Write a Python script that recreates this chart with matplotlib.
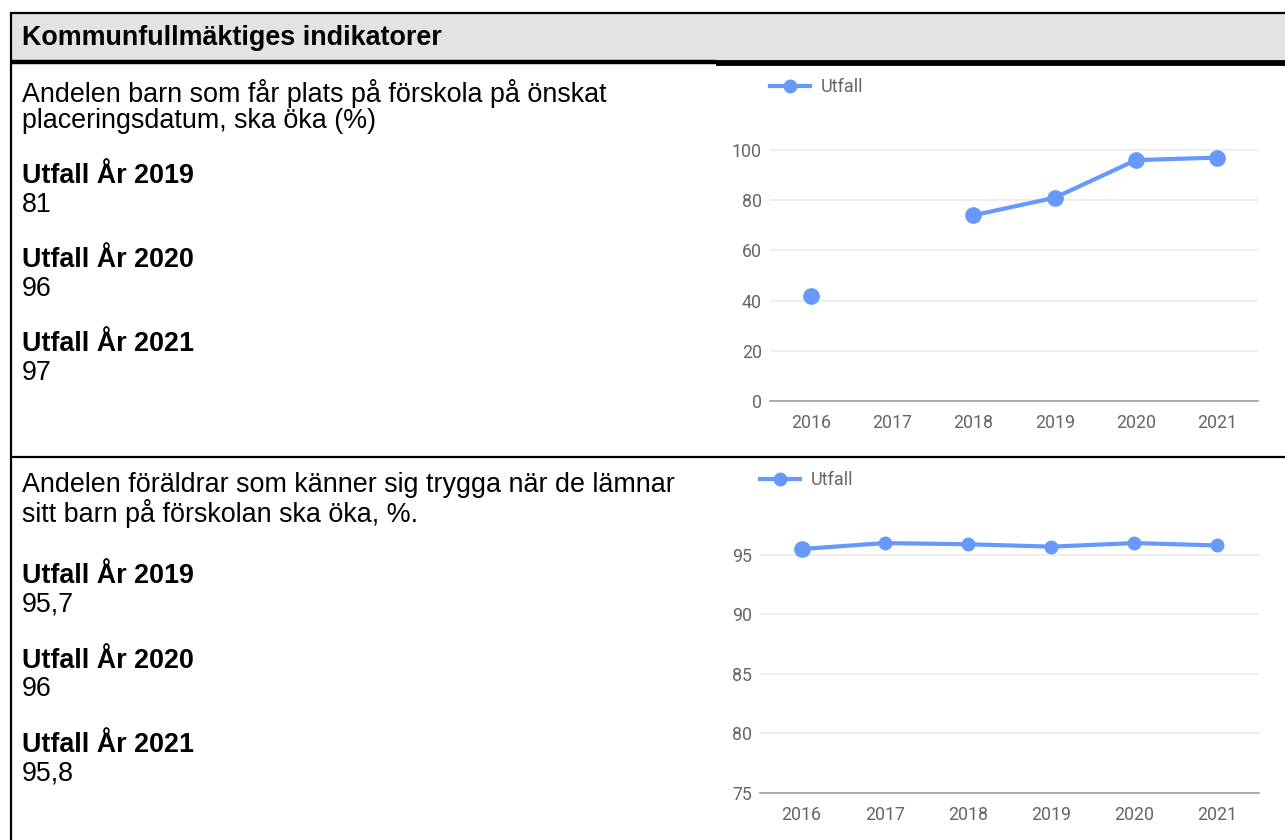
import numpy as np
import matplotlib.pyplot as plt
from matplotlib.lines import Line2D
from matplotlib.patches import Rectangle

# figure size in pixels
W = 1285
H = 840
DPI = 100

years = ['2016', '2017', '2018', '2019', '2020', '2021']

# indicator 1: placering pa onskat datum (%)
utfall_1 = [42, np.nan, 74, 81, 96, 97]
yticks_1 = [0, 20, 40, 60, 80, 100]

# indicator 2: trygga foraldrar (%)
utfall_2 = [95.5, 96.0, 95.9, 95.7, 96.0, 95.8]
yticks_2 = [75, 80, 85, 90, 95]

header = 'Kommunfullmäktiges indikatorer'
desc_1 = ['Andelen barn som får plats på förskola på önskat',
          'placeringsdatum, ska öka (%)']
desc_2 = ['Andelen föräldrar som känner sig trygga när de lämnar',
          'sitt barn på förskolan ska öka, %.']
labels = ['Utfall År 2019', 'Utfall År 2020', 'Utfall År 2021']
values_1 = ['81', '96', '97']
values_2 = ['95,7', '96', '95,8']

BLUE = '#6699fb'
GRID = '#ebebeb'
TICK = '#666666'
FS = 19.4


def fx(px):
    return px / W


def fy(py):
    return 1 - py / H


def hline(fig, y, x0, x1, lw):
    fig.add_artist(Line2D([fx(x0), fx(x1)], [fy(y), fy(y)], color='black',
                          lw=lw, solid_capstyle='butt'))


def vline(fig, x, y0, y1, lw):
    fig.add_artist(Line2D([fx(x), fx(x)], [fy(y0), fy(y1)], color='black',
                          lw=lw, solid_capstyle='butt'))


def add_axes(fig, left, right, bottom, top):
    return fig.add_axes([fx(left), fy(bottom), fx(right) - fx(left),
                         fy(top) - fy(bottom)])


def style_chart(ax, yticks, ylim):
    ax.set_xlim(-0.5, len(years) - 0.5)
    ax.set_ylim(*ylim)
    ax.set_xticks(range(len(years)))
    ax.set_xticklabels(years)
    ax.set_yticks(yticks)
    for s in ['top', 'right', 'left']:
        ax.spines[s].set_visible(False)
    ax.spines['bottom'].set_color('#9e9e9e')
    ax.spines['bottom'].set_linewidth(1.2)
    ax.grid(axis='y', color=GRID, lw=1.2)
    ax.set_axisbelow(True)
    ax.tick_params(length=0, labelsize=12.8, labelcolor=TICK)
    ax.tick_params(axis='x', pad=9)
    ax.tick_params(axis='y', pad=6)
    for t in ax.get_xticklabels() + ax.get_yticklabels():
        t.set_family('Roboto')


def text_block(fig, desc, values, y_desc, y_first, step):
    tx = 22
    for i, line in enumerate(desc):
        fig.text(fx(tx), fy(y_desc + 28 * i), line, fontsize=FS,
                 family='Liberation Sans', va='center')
    for i, (lab, val) in enumerate(zip(labels, values)):
        y = y_first + step * i
        fig.text(fx(tx), fy(y), lab, fontsize=FS, family='Liberation Sans',
                 weight='bold', va='center')
        fig.text(fx(tx), fy(y + 28.5), val, fontsize=FS,
                 family='Liberation Sans', va='center')


def legend(ax, fig, x, y):
    h = Line2D([], [], color=BLUE, lw=3, marker='o', markersize=9)
    leg = ax.legend([h], ['Utfall'], loc='center left',
                    bbox_to_anchor=(fx(x), fy(y)),
                    bbox_transform=fig.transFigure, frameon=False,
                    handlelength=2.2, handletextpad=0.6, borderaxespad=0,
                    borderpad=0, prop={'family': 'Roboto', 'size': 13})
    for t in leg.get_texts():
        t.set_color(TICK)


def main():
    fig = plt.figure(figsize=(W / DPI, H / DPI), dpi=DPI)

    # table frame
    fig.add_artist(Rectangle((fx(11), fy(61)), fx(W) - fx(11),
                             fy(13) - fy(61), facecolor='#e3e3e3',
                             edgecolor='none'))
    hline(fig, 13, 10, W, 1.6)
    hline(fig, 62, 10, 716, 3.2)
    hline(fig, 62.5, 716, W, 4.2)
    hline(fig, 457, 10, W, 1.6)
    vline(fig, 11, 12, H, 1.6)

    fig.text(fx(22), fy(38), header, fontsize=FS, family='Liberation Sans',
             weight='bold', va='center')

    text_block(fig, desc_1, values_1, 93, 176, 84)
    text_block(fig, desc_2, values_2, 485, 576, 84.5)

    # chart 1
    ax1 = add_axes(fig, 770, 1258, 401, 135)
    style_chart(ax1, yticks_1, (0, 106))
    ax1.plot(range(len(years)), utfall_1, color=BLUE, lw=3, marker='o',
             markersize=11, clip_on=False)
    legend(ax1, fig, 770, 87)

    # chart 2
    ax2 = add_axes(fig, 760, 1259, 793, 527)
    style_chart(ax2, yticks_2, (75, 97.35))
    ax2.plot(range(len(years)), utfall_2, color=BLUE, lw=3, marker='o',
             markersize=9, clip_on=False)
    ax2.plot([0], utfall_2[:1], color=BLUE, marker='o', markersize=11,
             clip_on=False)
    legend(ax2, fig, 760, 480)

    fig.savefig('out.png', dpi=DPI)


if __name__ == '__main__':
    main()
